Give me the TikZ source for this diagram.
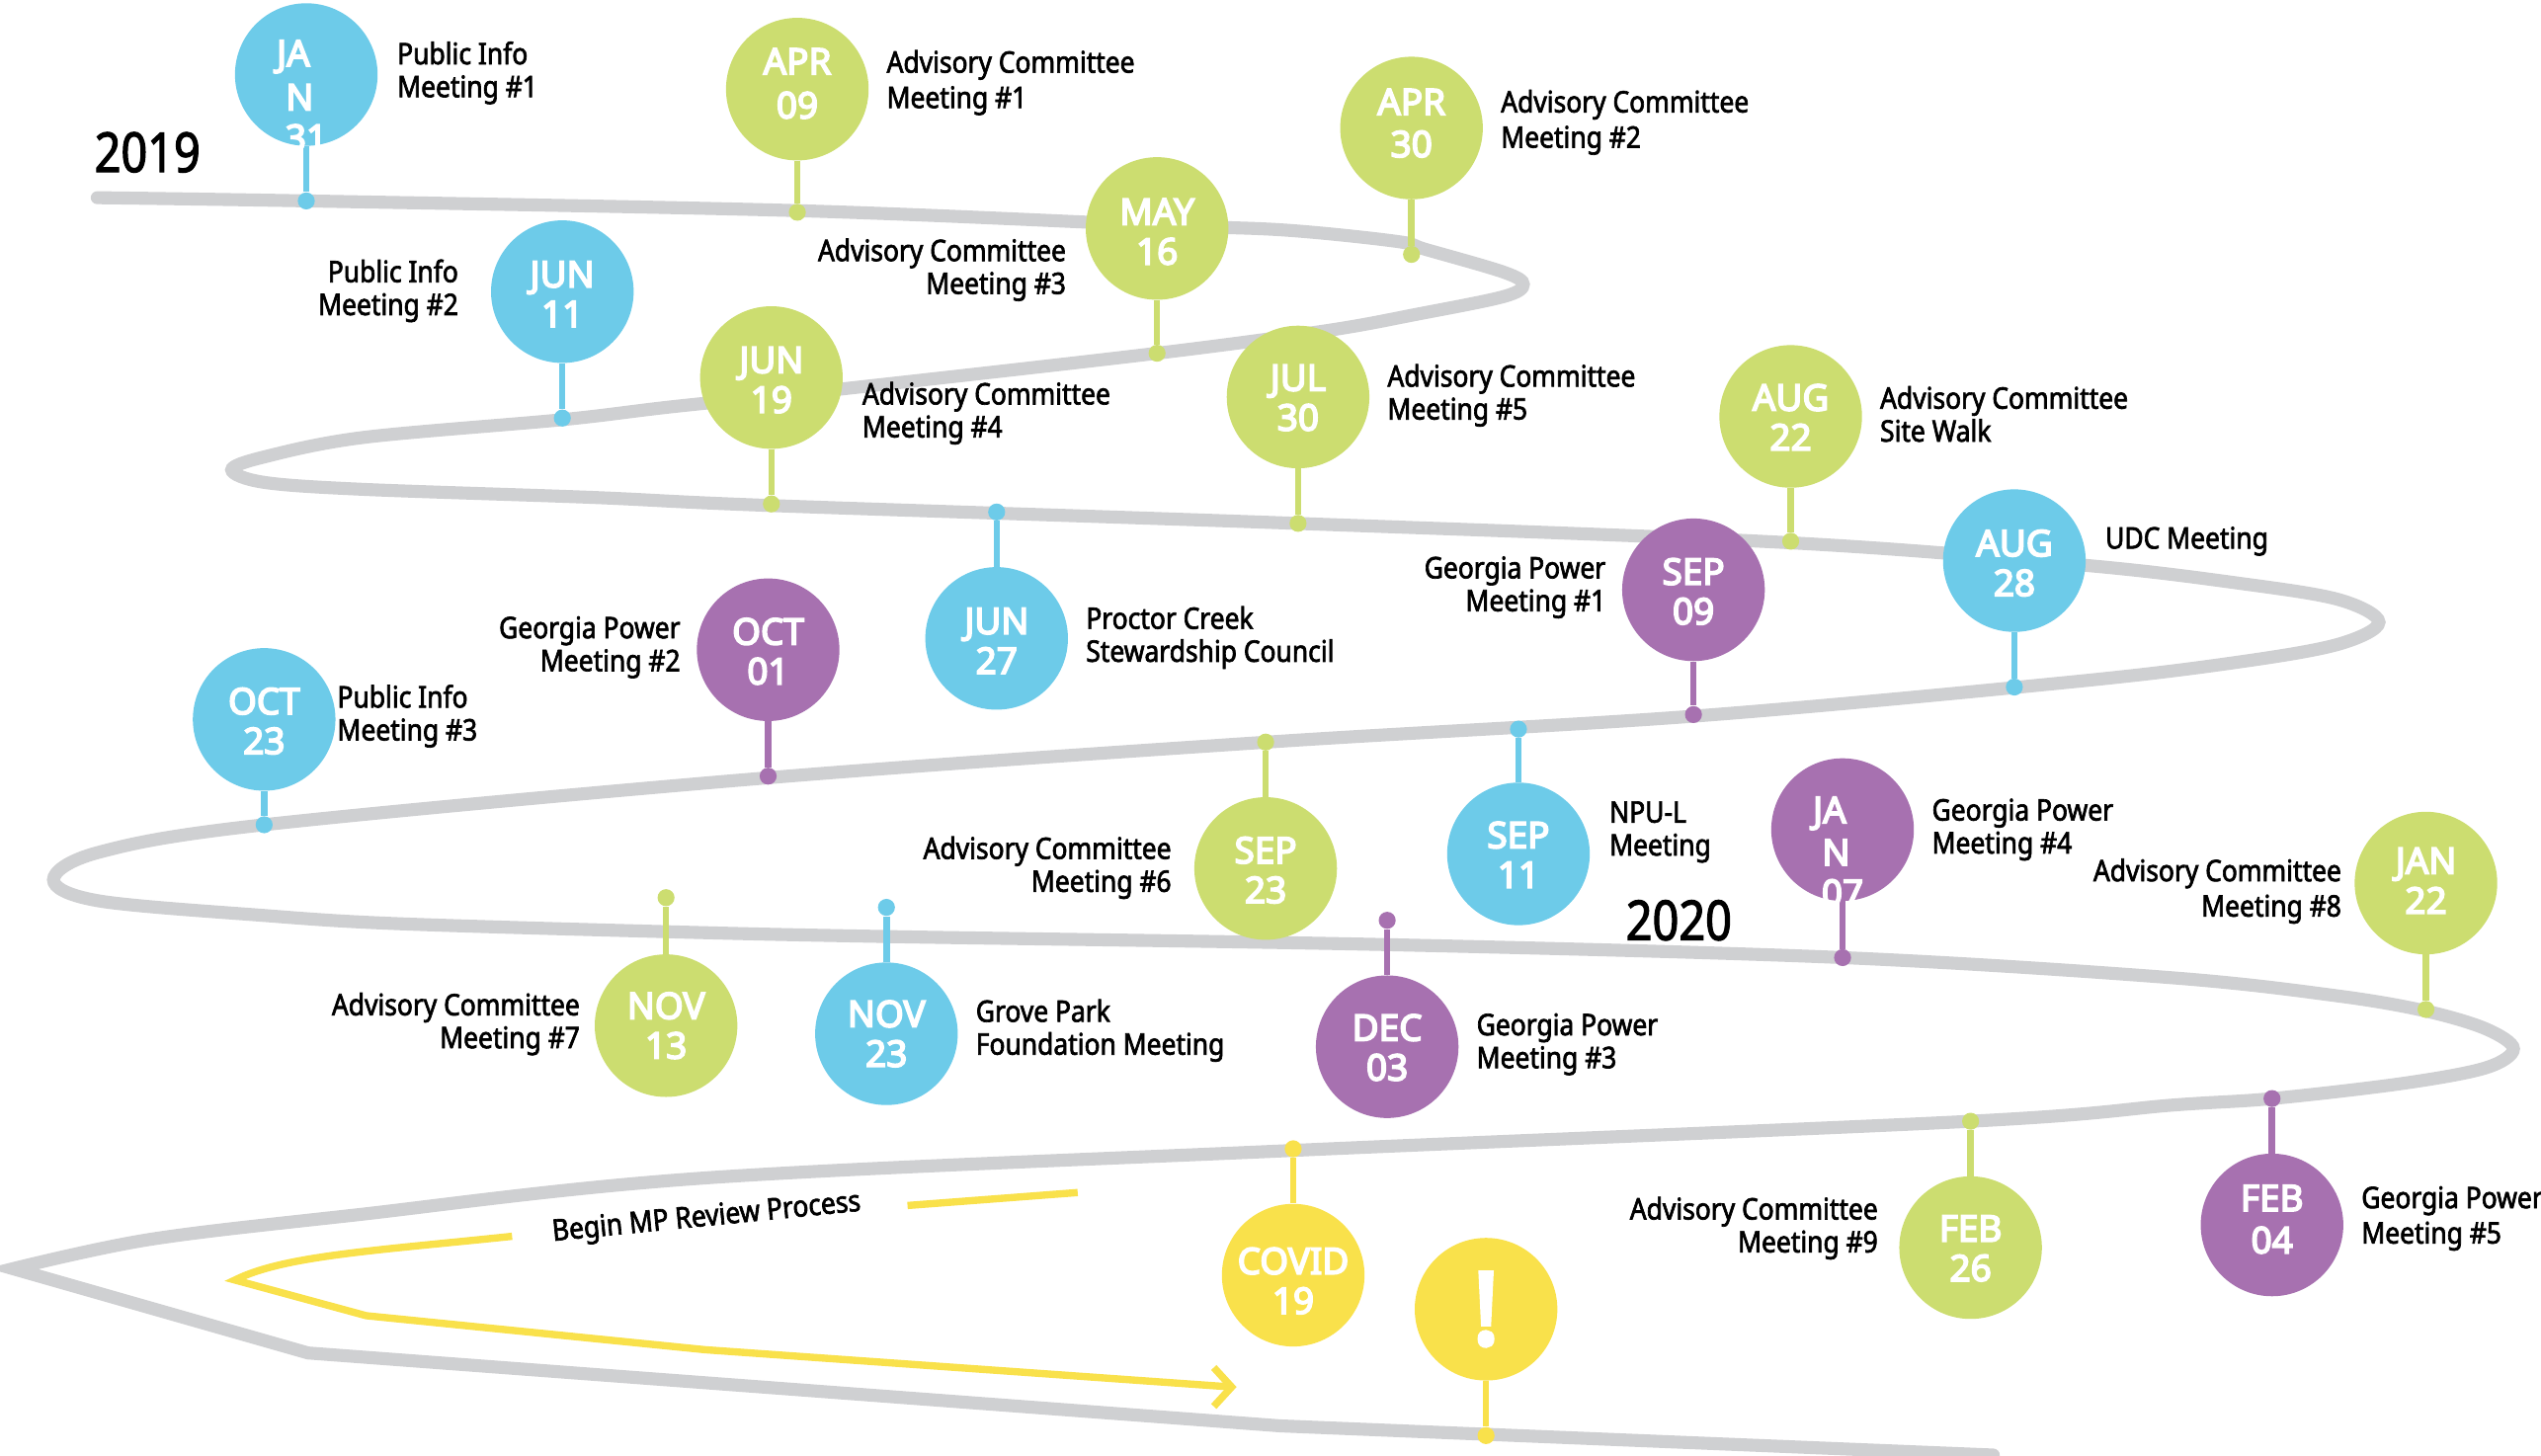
\documentclass[tikz,border=0pt]{standalone}
\usepackage{fontspec}
\newfontfamily\labfont{Noto Sans}[FakeStretch=0.88,FakeBold=2.2]
\newfontfamily\yearfont{Noto Sans}[FakeStretch=0.84,FakeBold=2]
\newfontfamily\datefont{Noto Sans}[FakeStretch=1.0,FakeBold=4.5]
\definecolor{cblue}{HTML}{6DCBE9}
\definecolor{cgreen}{HTML}{CCDD70}
\definecolor{cpurple}{HTML}{A771B0}
\definecolor{cyellow}{HTML}{F9E14B}
\definecolor{croad}{HTML}{CFD0D2}
\tikzset{
  road/.style={draw=croad,line width=8pt,line join=miter,line cap=round},
  proc/.style={draw=cyellow,line width=4.5pt,line join=miter},
  disc/.style={circle,fill=#1,minimum size=88pt,inner sep=0pt},
  stem/.style={draw=#1,line width=4pt},
  dot/.style={circle,fill=#1,minimum size=10.5pt,inner sep=0pt},
  date/.style={text=white,font=\datefont\fontsize{22.5}{24.5}\selectfont,align=center,inner sep=0pt},
  lab/.style={text=black,font=\labfont\fontsize{18.3}{20.3}\selectfont,inner sep=0pt},
  labl/.style={lab,anchor=west,align=left},
  labr/.style={lab,anchor=east,align=right},
  year/.style={text=black,font=\yearfont\fontsize{34}{36}\selectfont,inner sep=0pt},
}
% [text shift], name, x, y, colour, pin end y, date text
\newcommand{\mypin}[7][1]{%
  \node[disc=#5] (#2) at (#3,#4) {};
  \node[dot=#5] (#2e) at (#3,#6) {};
  \draw[stem=#5] (#2) -- (#2e);
  \node[date] (#2t) at (#3,#4+#1) {#7};
}
\begin{document}
\begin{tikzpicture}[x=1pt,y=-1pt]
\useasboundingbox (0,0) rectangle (1568,898);
% road
\draw[road] plot[smooth,tension=0.55] coordinates {(60,122) (190,124) (492,130) (714,139) (793,142) (862,149) (880,154) (928,168) (940,175.5) (928,183) (874,194) (819,204) (714,218) (520,240) (415,251) (347,259) (224,270) (163,282) (143,290) (163,297.7) (224,302) (366,307) (476,312) (800,323) (1105,335) (1288,349) (1382,360) (1443,370) (1468,384) (1443,397.6) (1382,408.5) (1280,420.7) (1045,442) (782,458) (474,480) (163,509) (61,526) (33,543) (61,556) (163,565) (244,570) (411,575) (547,578) (856,583) (1137,591) (1341,603.5) (1443,614.7) (1497,624) (1534,635) (1551,647.3) (1534,659) (1483,668.6) (1402,678) (1341,682) (1216,692) (798,710) (435,727) (218,750) (92,765) (8,783)} -- (190,835) -- (790,880) -- (1230,898);
% review process arrow
\coordinate (pa) at (316,763);
\coordinate (pb) at (145,790);
\coordinate (pc) at (226,812);
\coordinate (pd) at (435,833);
\coordinate (pe) at (760,856);
\coordinate (pf) at (749,844);
\coordinate (pg) at (749,868);
\coordinate (ph) at (560,744);
\coordinate (pi) at (665,736);
\draw[proc] (pa) .. controls (230,772) and (175,775) .. (pb) -- (pc) -- (pd) -- (pe);
\draw[proc] (pf) -- (pe) -- (pg);
\draw[proc] (ph) -- (pi);
\node[lab,rotate=5.6] (review) at (436,752) {Begin MP Review Process};
% pins
\mypin{a}{189}{46}{cblue}{124}{}
\node[date] (at1) at (181,35) {JA};
\node[date] (at2) at (185,60) {N};
\node[date] (at3) at (189,85) {31};
\mypin[-3.5]{b}{492}{55}{cgreen}{131}{APR\\[2.5pt]09}
\mypin[-3]{c}{871}{79}{cgreen}{157}{APR\\[1.5pt]30}
\mypin[2]{d}{714}{141}{cgreen}{218}{MAY\\16}
\mypin[1.5]{e}{347}{180}{cblue}{258}{JUN\\11}
\mypin[1.5]{f}{476}{233}{cgreen}{311}{JUN\\19}
\mypin[.5]{g}{801}{245}{cgreen}{323}{JUL\\30}
\mypin[.5]{h}{1105}{257}{cgreen}{334}{AUG\\22}
\mypin[1.5]{i}{615}{394}{cblue}{316}{JUN\\27}
\mypin{j}{1045}{364}{cpurple}{441}{SEP\\09}
\mypin[1.5]{k}{1243}{346}{cblue}{424}{AUG\\28}
\mypin{l}{474}{401}{cpurple}{479}{OCT\\01}
\mypin{m}{163}{444}{cblue}{509}{OCT\\23}
\mypin{n}{781}{536}{cgreen}{458}{SEP\\23}
\mypin[.5]{o}{937}{527}{cblue}{450}{SEP\\11}
\mypin{p}{1137}{512}{cpurple}{591}{}
\node[date] (pt1) at (1129,502) {JA};
\node[date] (pt2) at (1133,526) {N};
\node[date] (pt3) at (1137,551) {07};
\mypin[-1.5]{q}{1497}{545}{cgreen}{623}{JAN\\22}
\mypin[0]{r}{411}{633}{cgreen}{554}{NOV\\13}
\mypin[0]{s}{547}{638}{cblue}{560}{NOV\\23}
\mypin[.5]{t}{856}{646}{cpurple}{568}{DEC\\03}
\mypin[.5]{u}{1216}{770}{cgreen}{692}{FEB\\26}
\mypin[-3.5]{v}{1402}{756}{cpurple}{678}{FEB\\[1.5pt]04}
\mypin[3.5]{w}{798}{787}{cyellow}{709}{COVID\\19}
\mypin[0]{x}{917}{808}{cyellow}{886}{\fontsize{62}{62}\selectfont !}
% labels
\node[labl] (la) at (245,45) {Public Info\\Meeting \#1};
\node[labl] (lb) at (547,51) {Advisory Committee\\[1.5pt]Meeting \#1};
\node[labl] (lc) at (926,75.5) {Advisory Committee\\[1.5pt]Meeting \#2};
\node[labr] (ld) at (658,166.5) {Advisory Committee\\Meeting \#3};
\node[labr] (le) at (283,179.5) {Public Info\\Meeting \#2};
\node[labl] (lf) at (532,255) {Advisory Committee\\Meeting \#4};
\node[labl] (lg) at (856,244) {Advisory Committee\\Meeting \#5};
\node[labl] (lh) at (1160,255.5) {Advisory Committee\\Site Walk};
\node[labl] (lk) at (1299,334) {UDC Meeting};
\node[labl] (li) at (670,393.5) {Proctor Creek\\Stewardship Council};
\node[labr] (lj) at (991,362.5) {Georgia Power\\Meeting \#1};
\node[labr] (ll) at (420,399.5) {Georgia Power\\Meeting \#2};
\node[labl] (lm) at (208,442) {Public Info\\Meeting \#3};
\node[labr] (ln) at (723,535.5) {Advisory Committee\\Meeting \#6};
\node[labl] (lo) at (993,513.5) {NPU-L\\Meeting};
\node[labl] (lp) at (1192,512) {Georgia Power\\Meeting \#4};
\node[labr] (lq) at (1445,550) {Advisory Committee\\[1.5pt]Meeting \#8};
\node[labr] (lr) at (358,632) {Advisory Committee\\Meeting \#7};
\node[labl] (ls) at (602,636) {Grove Park\\Foundation Meeting};
\node[labl] (lt) at (911,644.5) {Georgia Power\\Meeting \#3};
\node[labr] (lu) at (1159,758) {Advisory Committee\\Meeting \#9};
\node[labl] (lv) at (1457,752) {Georgia Power\\[1.5pt]Meeting \#5};
\node[year] (y19) at (91,94) {2019};
\node[year] (y20) at (1036,568) {2020};
\end{tikzpicture}
\end{document}
